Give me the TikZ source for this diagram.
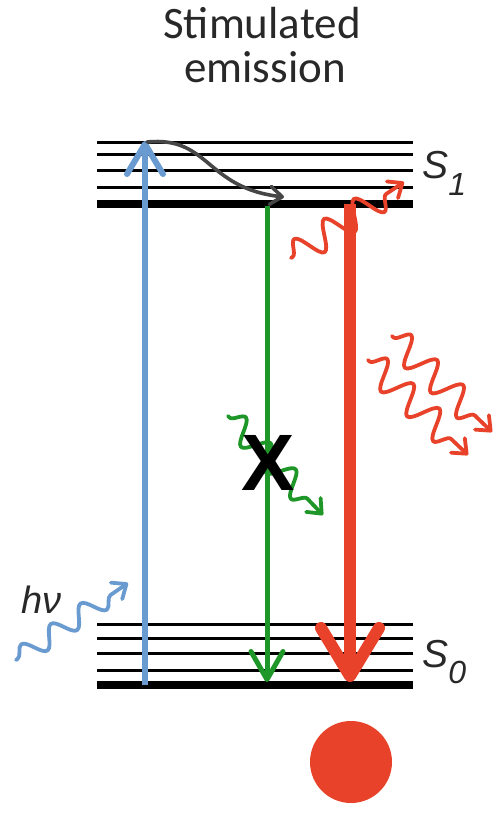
\documentclass[tikz,border=0pt]{standalone}
\usepackage{fontspec}
\setmainfont{Carlito}
\newfontfamily\labfont{Liberation Sans}
\usetikzlibrary{arrows.meta,decorations.pathmorphing}
\definecolor{blueC}{RGB}{106,155,208}
\definecolor{redC}{RGB}{232,67,42}
\definecolor{greenC}{RGB}{30,150,40}
\definecolor{grayC}{RGB}{70,70,70}
\definecolor{titleC}{RGB}{40,40,40}
\begin{document}
\begin{tikzpicture}[x=0.5pt,y=-0.5pt,
  lvl/.style={line width=1.5pt,black},
  base/.style={line width=4pt,black},
  wavy/.style={decorate,decoration={snake,amplitude=#1,segment length=18pt,pre length=1pt,post length=5pt},line width=1.9pt,line cap=round,line join=round},
  openhead/.style={-{Straight Barb[length=6pt,width=10pt,round]}},
  slabel/.style={anchor=base west,font=\labfont\itshape\fontsize{19.5}{22}\selectfont,inner sep=0pt,text=titleC},
  ttl/.style={anchor=base,font=\fontsize{22.5}{24}\selectfont,inner sep=0pt,text=titleC}]
\useasboundingbox (0,0) rectangle (501,815);
% title
\node[ttl] (title1) at (262,38) {Stimulated};
\node[ttl] (title2) at (265,82) {emission};
% S1 levels
\foreach \y [count=\i] in {142,154.5,170,187.5} {
  \coordinate (s1l\i) at (97,\y); \coordinate (s1r\i) at (413,\y);
  \draw[lvl] (s1l\i) -- (s1r\i);
}
\coordinate (s1bl) at (97,203.5); \coordinate (s1br) at (413,203.5);
\draw[base] (s1bl) -- (s1br);
% S0 levels
\foreach \y [count=\i] in {624.5,638,653,670} {
  \coordinate (s0l\i) at (97,\y); \coordinate (s0r\i) at (413,\y);
  \draw[lvl] (s0l\i) -- (s0r\i);
}
\coordinate (s0bl) at (97,685); \coordinate (s0br) at (413,685);
\draw[base] (s0bl) -- (s0br);
% labels
\node[slabel] (S1) at (422,178) {S\raisebox{-8.5pt}{\fontsize{16}{16}\selectfont 1}};
\node[slabel] (S0) at (422,667) {S\raisebox{-8pt}{\fontsize{16}{16}\selectfont 0}};
% blue absorption arrow
\coordinate (b0) at (145,685); \coordinate (b1) at (145,141);
\draw[blueC,line width=3pt,-{Straight Barb[length=15pt,width=18pt,round]}] (b0) -- (b1);
% gray relaxation
\coordinate (g0) at (147,142); \coordinate (g1) at (284,197);
\draw[grayC,line width=1.8pt,line cap=round,-{Straight Barb[length=6pt,width=9pt,round]}] (g0) .. controls (210,136) and (205,188) .. (g1);
% green arrow
\coordinate (gr0) at (267,206); \coordinate (gr1) at (267,682);
\draw[greenC,line width=2.5pt,-{Straight Barb[length=14pt,width=16pt,round]}] (gr0) -- (gr1);
% red arrow
\coordinate (r0) at (350,204); \coordinate (r1) at (350,682);
\draw[redC,line width=6pt,-{Straight Barb[length=24pt,width=29pt,round]}] (r0) -- (r1);
% hv photon
\coordinate (hv0) at (16,660); \coordinate (hv1) at (128,583);
\draw[blueC,wavy=5pt,openhead] (hv0) -- (hv1);
\node[anchor=base west,font=\labfont\itshape\fontsize{19}{22}\selectfont,inner sep=0pt,text=titleC] (hv) at (21,613) {hν};
% red stimulating photon
\coordinate (rw0) at (291,258); \coordinate (rw1) at (404,182);
\draw[redC,wavy=7pt,openhead] (rw0) -- (rw1);
% emitted red photons
\coordinate (ra0) at (392,336); \coordinate (ra1) at (492,432);
\draw[redC,wavy=7pt,openhead] (ra0) -- (ra1);
\coordinate (rb0) at (368,360); \coordinate (rb1) at (468,455);
\draw[redC,wavy=7pt,openhead] (rb0) -- (rb1);
% green photon (blocked)
\coordinate (gw0) at (228,416); \coordinate (gw1) at (323,515);
\draw[greenC,wavy=6pt,openhead] (gw0) -- (gw1);
\node[anchor=base,font=\labfont\bfseries\fontsize{40}{40}\selectfont,inner sep=0pt] (X) at (268,490) {X};
% red molecule
\node[circle,fill=redC,minimum size=41pt,inner sep=0pt] (dot) at (351,762) {};
\end{tikzpicture}
\end{document}
